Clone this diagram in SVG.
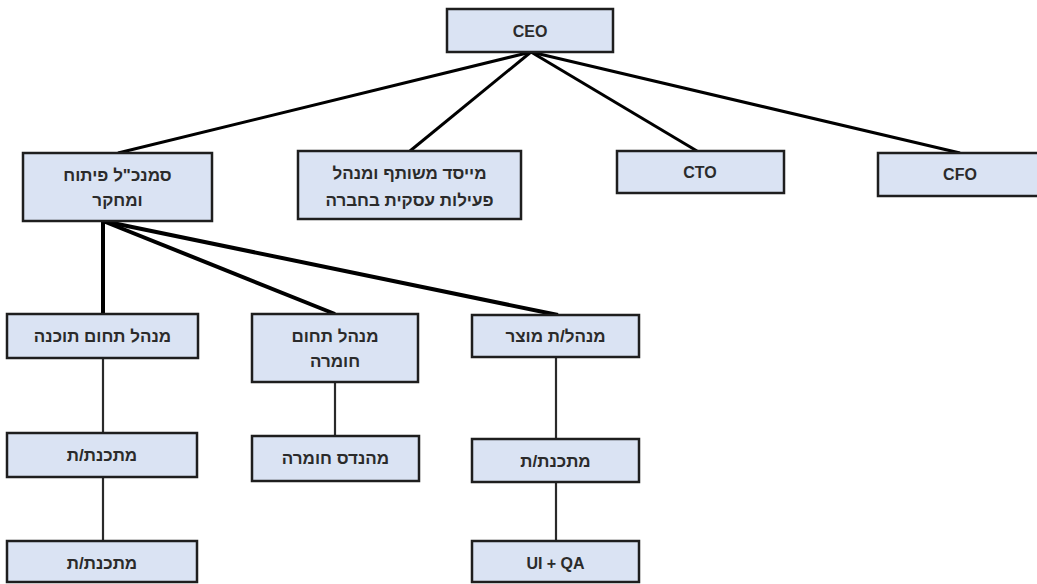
<svg xmlns="http://www.w3.org/2000/svg" width="1037" height="584" viewBox="0 0 1037 584">
<style>
.box{fill:#dae3f3;stroke:#1e1e1e;stroke-width:2.5}
.t{font-family:"Liberation Sans","DejaVu Sans",sans-serif;font-size:16px;font-weight:bold;fill:#2b2b2b;text-anchor:middle;dominant-baseline:central}
.he{direction:rtl;unicode-bidi:embed;font-size:17px}
.c1{stroke:#000;stroke-width:3;fill:none}
.c2{stroke:#000;stroke-width:4;fill:none}
.c3{stroke:#2a2a2a;stroke-width:2.2;fill:none}
</style>
<rect width="1037" height="584" fill="#fff"/>
<g id="connectors">
<line class="c1" x1="531" y1="52" x2="118" y2="153"/>
<line class="c1" x1="531" y1="52" x2="410" y2="151"/>
<line class="c1" x1="531" y1="52" x2="697" y2="151"/>
<line class="c1" x1="531" y1="52" x2="960" y2="153"/>
<line class="c2" x1="103" y1="221" x2="103" y2="314"/>
<line class="c2" x1="103" y1="221" x2="335" y2="314"/>
<line class="c2" x1="103" y1="221" x2="558" y2="315"/>
<line class="c3" x1="103" y1="358" x2="103" y2="433"/>
<line class="c3" x1="103" y1="477" x2="103" y2="541"/>
<line class="c3" x1="335" y1="382" x2="335" y2="436"/>
<line class="c3" x1="556" y1="357" x2="556" y2="439"/>
<line class="c3" x1="556" y1="482" x2="556" y2="541"/>
</g>
<g id="ceo"><rect class="box" x="447" y="9" width="166" height="43"/><text class="t" x="530" y="31">CEO</text></g>
<g id="vp-rd"><rect class="box" x="23" y="153" width="189" height="68"/><text class="t he" x="117.5" y="175">סמנכ"ל פיתוח</text><text class="t he" x="117.5" y="200">ומחקר</text></g>
<g id="cofounder"><rect class="box" x="298" y="151" width="223" height="68"/><text class="t he" x="409.5" y="173">מייסד משותף ומנהל</text><text class="t he" x="409.5" y="200">פעילות עסקית בחברה</text></g>
<g id="cto"><rect class="box" x="617" y="151" width="167" height="42"/><text class="t" x="700" y="172">CTO</text></g>
<g id="cfo"><rect class="box" x="878" y="153" width="170" height="43"/><text class="t" x="960" y="174">CFO</text></g>
<g id="sw-mgr"><rect class="box" x="7" y="314" width="191" height="44"/><text class="t he" x="102.5" y="336">מנהל תחום תוכנה</text></g>
<g id="hw-mgr"><rect class="box" x="252" y="314" width="166" height="68"/><text class="t he" x="335" y="336">מנהל תחום</text><text class="t he" x="335" y="361">חומרה</text></g>
<g id="product-mgr"><rect class="box" x="472" y="315" width="167" height="42"/><text class="t he" x="555.5" y="336">מנהל/ת מוצר</text></g>
<g id="dev1"><rect class="box" x="7" y="433" width="190" height="44"/><text class="t he" x="102" y="455">מתכנת/ת</text></g>
<g id="hw-eng"><rect class="box" x="252" y="436" width="167" height="45"/><text class="t he" x="335.5" y="458">מהנדס חומרה</text></g>
<g id="dev3"><rect class="box" x="472" y="439" width="167" height="43"/><text class="t he" x="555.5" y="461">מתכנת/ת</text></g>
<g id="dev2"><rect class="box" x="7" y="541" width="190" height="41"/><text class="t he" x="102" y="563">מתכנת/ת</text></g>
<g id="uiqa"><rect class="box" x="472" y="541" width="167" height="41"/><text class="t" x="555.5" y="563">UI + QA</text></g>
</svg>
